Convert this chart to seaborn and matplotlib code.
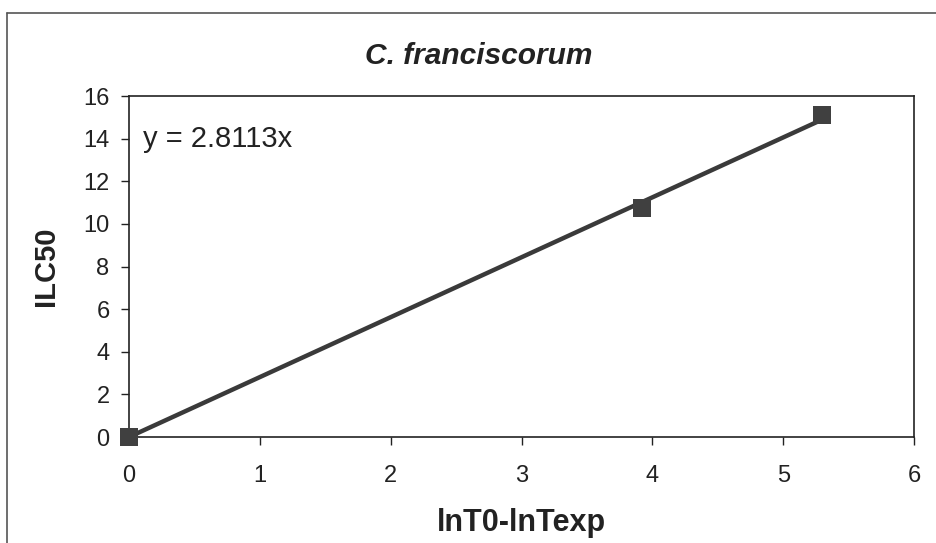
import pandas as pd
import seaborn as sns
import matplotlib.pyplot as plt
from matplotlib.lines import Line2D

# data
ln_ratio = [0.0, 3.92, 5.30]
ilc50 = [0.0, 10.75, 15.1]
slope = 2.8113
x_ticks = [0, 1, 2, 3, 4, 5, 6]
y_ticks = [0, 2, 4, 6, 8, 10, 12, 14, 16]

sns.set_theme(style='white')
plt.rcParams['font.family'] = ['Liberation Sans', 'DejaVu Sans']

df = pd.DataFrame({'x': ln_ratio, 'y': ilc50})
trend = pd.DataFrame({'x': [0, max(ln_ratio)]})
trend['y'] = slope * trend['x']

fig = plt.figure(figsize=(9.37, 5.43), dpi=100)
ax = fig.add_axes([0.1377, 0.1952, 0.8378, 0.628])

sns.lineplot(data=trend, x='x', y='y', ax=ax, color='#3a3a3a', linewidth=3.2, zorder=2)
sns.scatterplot(data=df, x='x', y='y', ax=ax, marker='s', s=165, color='#404040',
                edgecolor='#404040', linewidth=0, zorder=3, clip_on=False)

ax.set_xlim(0, 6)
ax.set_ylim(0, 16)
ax.set_xticks(x_ticks)
ax.set_yticks(y_ticks)
ax.tick_params(axis='both', labelsize=17, colors='#222222', direction='out',
               length=6, width=1)
ax.tick_params(axis='x', bottom=True, pad=14)
ax.tick_params(axis='y', left=True, pad=8)
for s in ax.spines.values():
    s.set_color('#222222')
    s.set_linewidth(1.2)

ax.set_xlabel('lnT0-lnTexp', fontsize=22, fontweight='bold', color='#222222', labelpad=15)
ax.set_ylabel('ILC50', fontsize=21, fontweight='bold', color='#222222', labelpad=17)
# Excel centres the title over the whole chart area, not the plot area
ax.set_title('C. franciscorum', fontsize=21.5, fontweight='bold', style='italic',
             color='#222222', pad=23, x=0.445)
ax.text(0.11, 14, 'y = 2.8113x', fontsize=21, color='#222222', va='center')

# outer chart frame (top and left edges visible)
fig.add_artist(Line2D([0.008, 1.0], [0.976, 0.976], color='#555555', linewidth=1.2))
fig.add_artist(Line2D([0.008, 0.008], [0.0, 0.976], color='#555555', linewidth=1.2))

fig.savefig('out.png', dpi=100)
